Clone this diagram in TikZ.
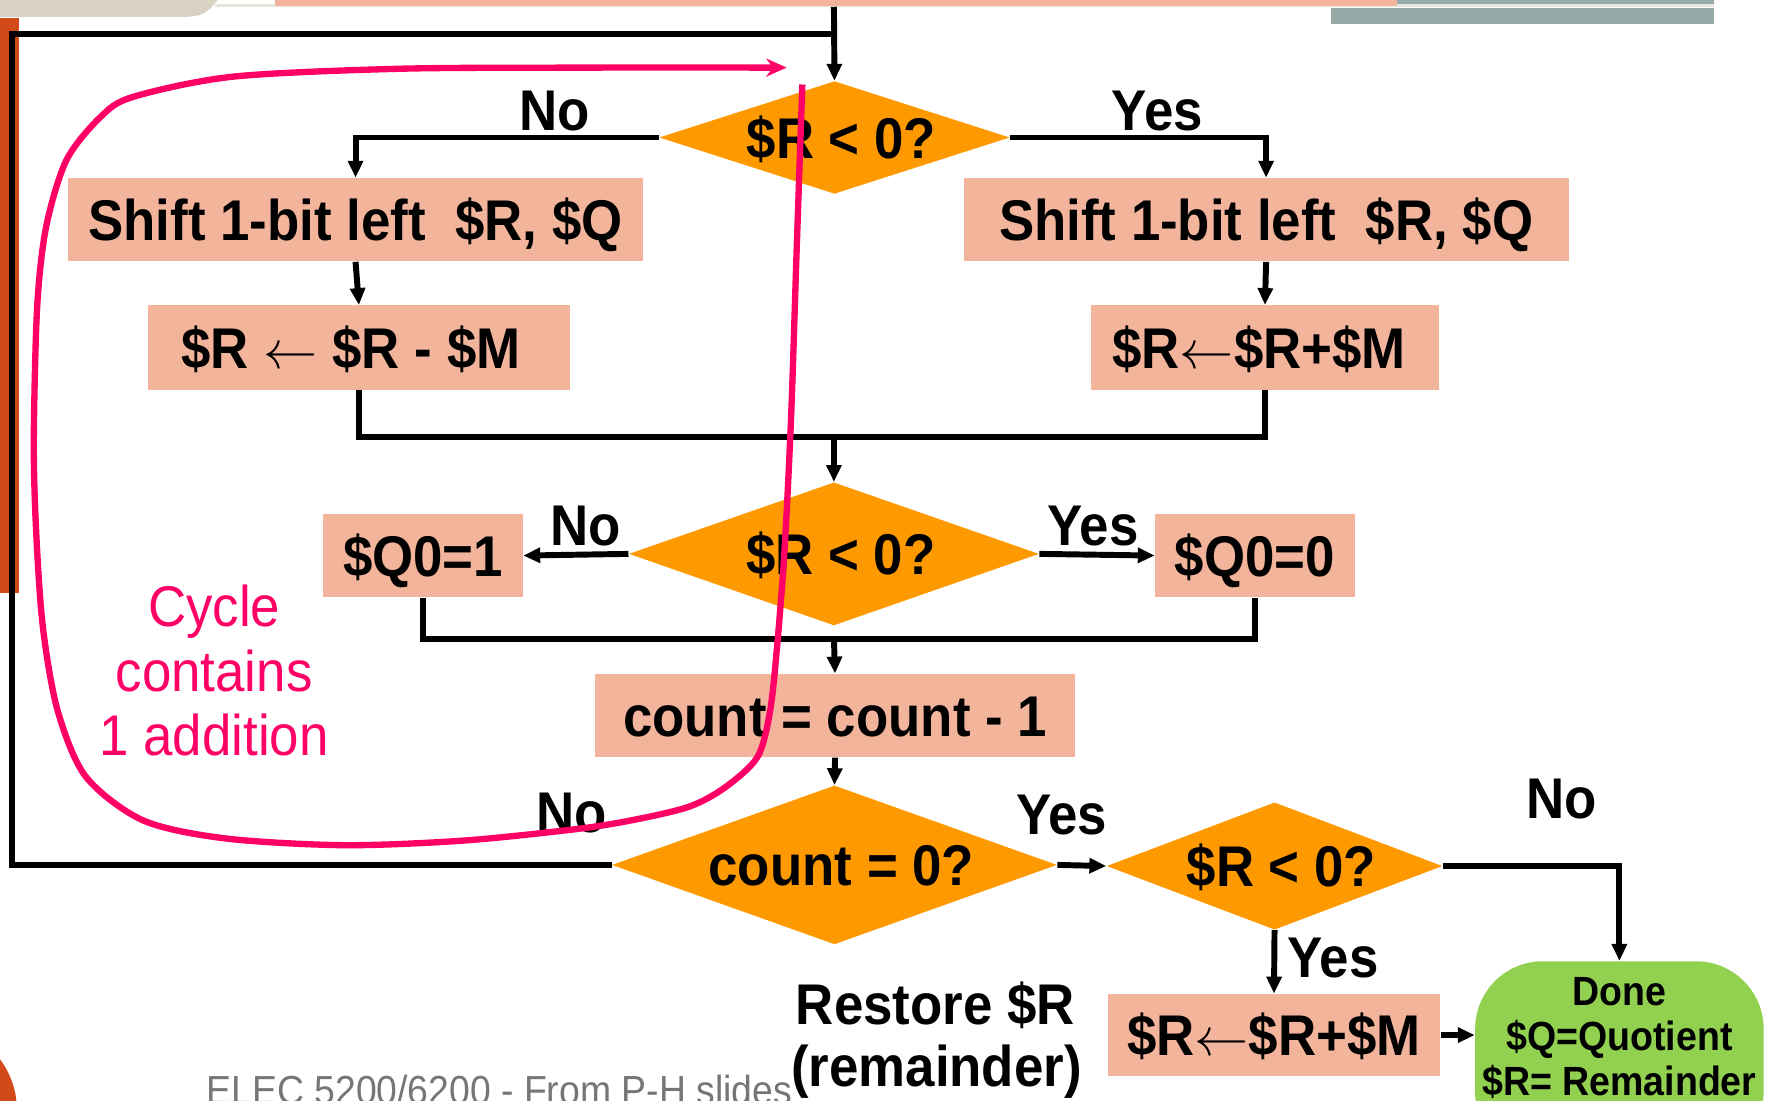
\documentclass[tikz,border=0pt]{standalone}
\usepackage{fontspec}
\setmainfont{Liberation Sans}[FakeStretch=0.92]
\usetikzlibrary{shapes.geometric,arrows.meta}

\definecolor{boxfill}{HTML}{F3B49C}
\definecolor{decfill}{HTML}{FF9900}
\definecolor{donefill}{HTML}{92D050}
\definecolor{loopink}{HTML}{FF0066}
\definecolor{barcol}{HTML}{D24A1A}
\definecolor{beige}{HTML}{D9D2C2}
\definecolor{slate}{HTML}{96AAA7}
\definecolor{paleline}{HTML}{E8E5DE}
\definecolor{footgray}{HTML}{767676}

% thin assignment arrow used inside the step boxes
\newcommand{\getsarrow}{\scalebox{1.1}{$\leftarrow$}}

\begin{document}
\begin{tikzpicture}[x=0.02cm,y=-0.02cm,
  big/.style={font=\fontsize{29}{32}\selectfont\bfseries},
  stepbox/.style={big, fill=boxfill, inner sep=0pt, text height=21pt, text depth=0pt},
  decision/.style={big, diamond, fill=decfill, inner sep=0pt, shape aspect=3,
                   text height=21pt, text depth=0pt},
  lab/.style={big, inner sep=0pt, text height=21pt, text depth=0pt},
  flow/.style={line width=3pt, black},
  arr/.style={flow, -{Triangle[length=0.3cm,width=0.26cm]}},
  donebox/.style={fill=donefill, rounded corners=1.2cm, inner sep=0pt,
                  minimum width=5.12cm, minimum height=3.52cm},
  cycleline/.style={line width=3.2pt, loopink, -{Stealth[length=0.36cm,width=0.32cm]}},
]
\useasboundingbox (0,0) rectangle (1568,977);
\clip (0,0) rectangle (1568,977);
\fill[white] (0,0) rectangle (1568,977);

% slide decorations
\fill[beige] (0,0) -- (193,0) .. controls (183,13) and (178,15) .. (160,15) -- (0,15) -- cycle;
\fill[paleline] (191,3.5) rectangle (1521,6.5);
\fill[boxfill] (244,0) rectangle (1240,5);
\fill[slate] (1240,0) rectangle (1521,3.5);
\fill[slate] (1181,7) rectangle (1521,21);
\fill[barcol] (0,16) rectangle (17,526);
\fill[barcol] (-60,985) circle (75);

% steps and decisions
\node[decision, minimum width=6.22cm, minimum height=2.0cm] (d1) at (740.5,122) {\kern7pt\$R < 0?};
\node[stepbox, minimum width=10.22cm, minimum height=1.48cm] (l1) at (315.5,195) {Shift 1-bit left\ \ \$R, \$Q};
\node[stepbox, minimum width=10.74cm, minimum height=1.48cm] (r1) at (1123.5,195) {Shift 1-bit left\ \ \$R, \$Q};
\node[stepbox, minimum width=7.5cm, minimum height=1.5cm] (l2) at (318.5,308.5) {\$R \getsarrow{} \$R - \$M\kern8pt};
\node[stepbox, minimum width=6.18cm, minimum height=1.5cm] (r2) at (1122.5,308.5) {\$R\getsarrow\$R+\$M\kern6pt};
\node[decision, minimum width=7.28cm, minimum height=2.54cm] (d2) at (740,491.5) {\kern7pt\$R < 0?};
\node[stepbox, minimum width=3.54cm, minimum height=1.48cm] (q1) at (375.5,493) {\$Q0=1};
\node[stepbox, minimum width=3.54cm, minimum height=1.48cm] (q0) at (1113.5,493) {\$Q0=0};
\node[stepbox, minimum width=8.52cm, minimum height=1.48cm] (cnt) at (741,635) {count = count - 1};
\node[decision, minimum width=7.9cm, minimum height=2.82cm] (d3) at (740.5,767.5) {\kern7pt count = 0?};
\node[decision, minimum width=5.96cm, minimum height=2.26cm] (d4) at (1131,768.5) {\kern7pt\$R < 0?};
\node[stepbox, minimum width=5.9cm, minimum height=1.46cm] (rfix) at (1130.5,918.5) {\$R\getsarrow\$R+\$M};
\node[donebox] (done) at (1437,941) {};
\node[anchor=north, align=center, inner sep=0pt,
      font=\fontsize{20.6}{22.8}\selectfont\bfseries] (donetext) at (1437,867)
      {Done\\\$Q=Quotient\\\$R= Remainder};

% branch labels
\node[lab] (no1) at (492,97) {No};
\node[lab] (yes1) at (1027,97) {Yes};
\node[lab] (no2) at (520,466) {No};
\node[lab] (yes2) at (970,466) {Yes};
\node[lab] (no3) at (507,720) {No};
\node[lab] (yes3) at (942,722) {Yes};
\node[lab] (no4) at (1386,708) {No};
\node[lab] (yes4) at (1183,849) {Yes};
\node[lab] (restore) at (830,891) {Restore \$R};
\node[lab] (restore2) at (831,946) {(remainder)};

% connectors
\coordinate (topin) at (740,6);
\coordinate (loopin) at (740,30);
\coordinate (loopcorner) at (11,30);
\coordinate (m1) at (740,388);
\coordinate (m2) at (740,567);

\draw[arr] (topin) -- (d1.north);
\draw[flow] (d3.west) -| (loopcorner) -- (loopin);
\draw[arr] (d1.west) -| (l1.north);
\draw[arr] (d1.east) -| (r1.north);
\draw[arr] (l1.south) -- (l2.north);
\draw[arr] (r1.south) -- (r2.north);
\draw[flow] (l2.south) |- (m1) -| (r2.south);
\draw[arr] (m1) -- (d2.north);
\draw[arr] (d2.west) -- (q1.east);
\draw[arr] (d2.east) -- (q0.west);
\draw[flow] (q1.south) |- (m2) -| (q0.south);
\draw[arr] (m2) -- (cnt.north);
\draw[arr] (cnt.south) -- (d3.north);
\draw[arr] (d3.east) -- (d4.west);
\draw[arr] (d4.east) -| (done.north);
\draw[arr] (d4.south) -- (rfix.north);
\draw[arr] (rfix.east) -- (rfix.east -| done.west);

% footer
\node[anchor=base west, inner sep=0pt, text=footgray,
      font=\fontsize{20.5}{24}\selectfont] (footer) at (183,980)
      {ELEC 5200/6200 - From P-H slides};

% hand-drawn loop annotation
\node[anchor=north, align=center, inner sep=0pt, text=loopink,
      font=\fontsize{29}{32.4}\selectfont] (cyclenote) at (190,519)
      {Cycle\\contains\\1 addition};
\draw[cycleline] plot[smooth, tension=0.5] coordinates {
  (712,75) (707,220) (702,370) (696,491) (689,580) (683,633) (672,672)
  (643,699) (611,716) (560,728) (509,736) (410,746) (305,750) (200,744)
  (127,728) (76,689) (51,630) (38,556) (32,470) (30,390) (33,272)
  (41,201) (59,142) (89,104) (118,86) (207,68) (355,61) (520,60)
  (698,60)};
\end{tikzpicture}
\end{document}
